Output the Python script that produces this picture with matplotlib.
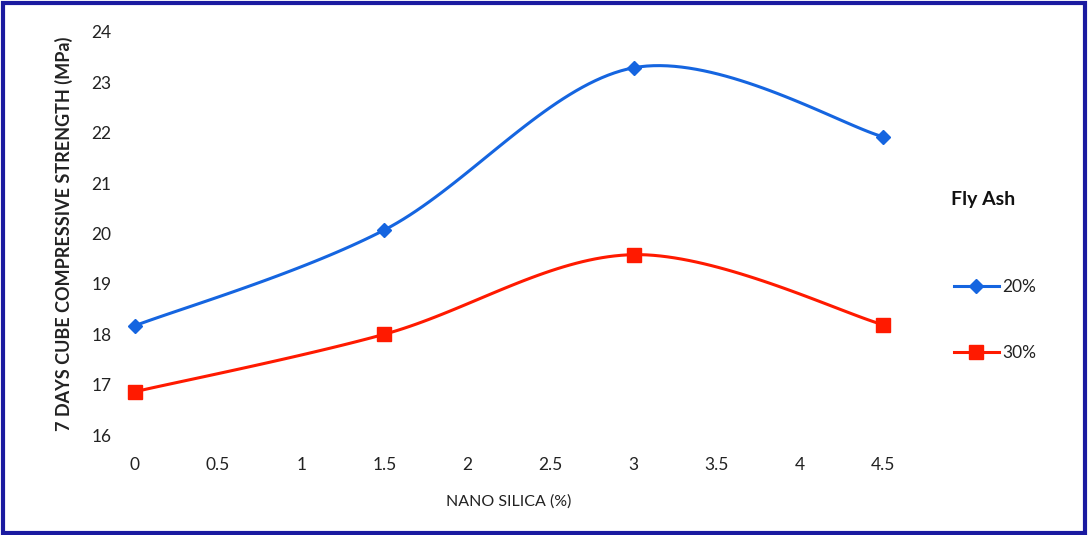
import numpy as np
import matplotlib.pyplot as plt
from matplotlib.patches import Rectangle
from matplotlib.lines import Line2D

# Datos
nano_silica = [0, 1.5, 3, 4.5]
fly_ash_20 = [18.17, 20.07, 23.29, 21.92]
fly_ash_30 = [16.86, 18.0, 19.58, 18.19]
x_ticks = [0, 0.5, 1, 1.5, 2, 2.5, 3, 3.5, 4, 4.5]
x_tick_labels = ['0', '0.5', '1', '1.5', '2', '2.5', '3', '3.5', '4', '4.5']
y_ticks = [16, 17, 18, 19, 20, 21, 22, 23, 24]

plt.rcParams['font.family'] = ['Lato', 'DejaVu Sans']


# Curva suavizada tipo Excel (Bezier con puntos de control de Catmull-Rom)
def curva_suave(xs, ys, n=40):
    xs = np.asarray(xs, float)
    ys = np.asarray(ys, float)
    pts = np.column_stack([xs, ys])
    out = []
    for i in range(len(pts) - 1):
        p0 = pts[i - 1] if i > 0 else pts[i]
        p1 = pts[i]
        p2 = pts[i + 1]
        p3 = pts[i + 2] if i + 2 < len(pts) else pts[i + 1]
        c1 = p1 + (p2 - p0) / 6
        c2 = p2 - (p3 - p1) / 6
        t = np.linspace(0, 1, n)[:, None]
        seg = ((1 - t) ** 3) * p1 + 3 * ((1 - t) ** 2) * t * c1 + 3 * (1 - t) * t ** 2 * c2 + t ** 3 * p2
        out.append(seg if i == 0 else seg[1:])
    out = np.vstack(out)
    return out[:, 0], out[:, 1]


fig = plt.figure(figsize=(10.88, 5.35), dpi=100)
ax = fig.add_axes([135 / 1088, 1 - 435 / 535, (883 - 135) / 1088, (435 - 32) / 535])

azul = '#1565e0'
rojo = '#ff1a00'

cx, cy = curva_suave(nano_silica, fly_ash_20)
ax.plot(cx, cy, color=azul, lw=2.2, clip_on=False)
ax.plot(nano_silica, fly_ash_20, linestyle='none', marker='D', ms=7, color=azul, clip_on=False)

cx, cy = curva_suave(nano_silica, fly_ash_30)
ax.plot(cx, cy, color=rojo, lw=2.2, clip_on=False)
ax.plot(nano_silica, fly_ash_30, linestyle='none', marker='s', ms=10, color=rojo, clip_on=False)

ax.set_xlim(0, 4.5)
ax.set_ylim(16, 24)
ax.set_xticks(x_ticks)
ax.set_xticklabels(x_tick_labels)
ax.set_yticks(y_ticks)
ax.tick_params(axis='both', length=0, labelsize=12.5, colors='#222222')
ax.tick_params(axis='x', pad=16)
ax.tick_params(axis='y', pad=17)
for s in ax.spines.values():
    s.set_visible(False)

ax.set_xlabel('NANO SILICA (%)', fontsize=11.5, color='#222222', labelpad=15)
ax.set_ylabel('7 DAYS CUBE COMPRESSIVE STRENGTH (MPa)', fontsize=13, fontweight='bold',
              color='#222222', labelpad=13)

# Leyenda
fig.text(983 / 1088, 1 - 200 / 535, 'Fly Ash', fontsize=14, fontweight='bold',
         ha='center', va='center', color='#111111')
handles = [Line2D([], [], color=azul, lw=2.2, marker='D', ms=7),
           Line2D([], [], color=rojo, lw=2.2, marker='s', ms=10)]
fig.legend(handles, ['20%', '30%'], loc='center left',
           bbox_to_anchor=(938 / 1088, 1 - 320 / 535), frameon=False,
           fontsize=12.5, labelspacing=2.9, handlelength=2.6, handletextpad=0.2,
           labelcolor='#222222')

# Marco azul
fig.patches.append(Rectangle((0.003, 0.004), 0.994, 0.99, transform=fig.transFigure,
                             fill=False, edgecolor='#1a1aa0', lw=3))

fig.savefig('out.png', dpi=100)
